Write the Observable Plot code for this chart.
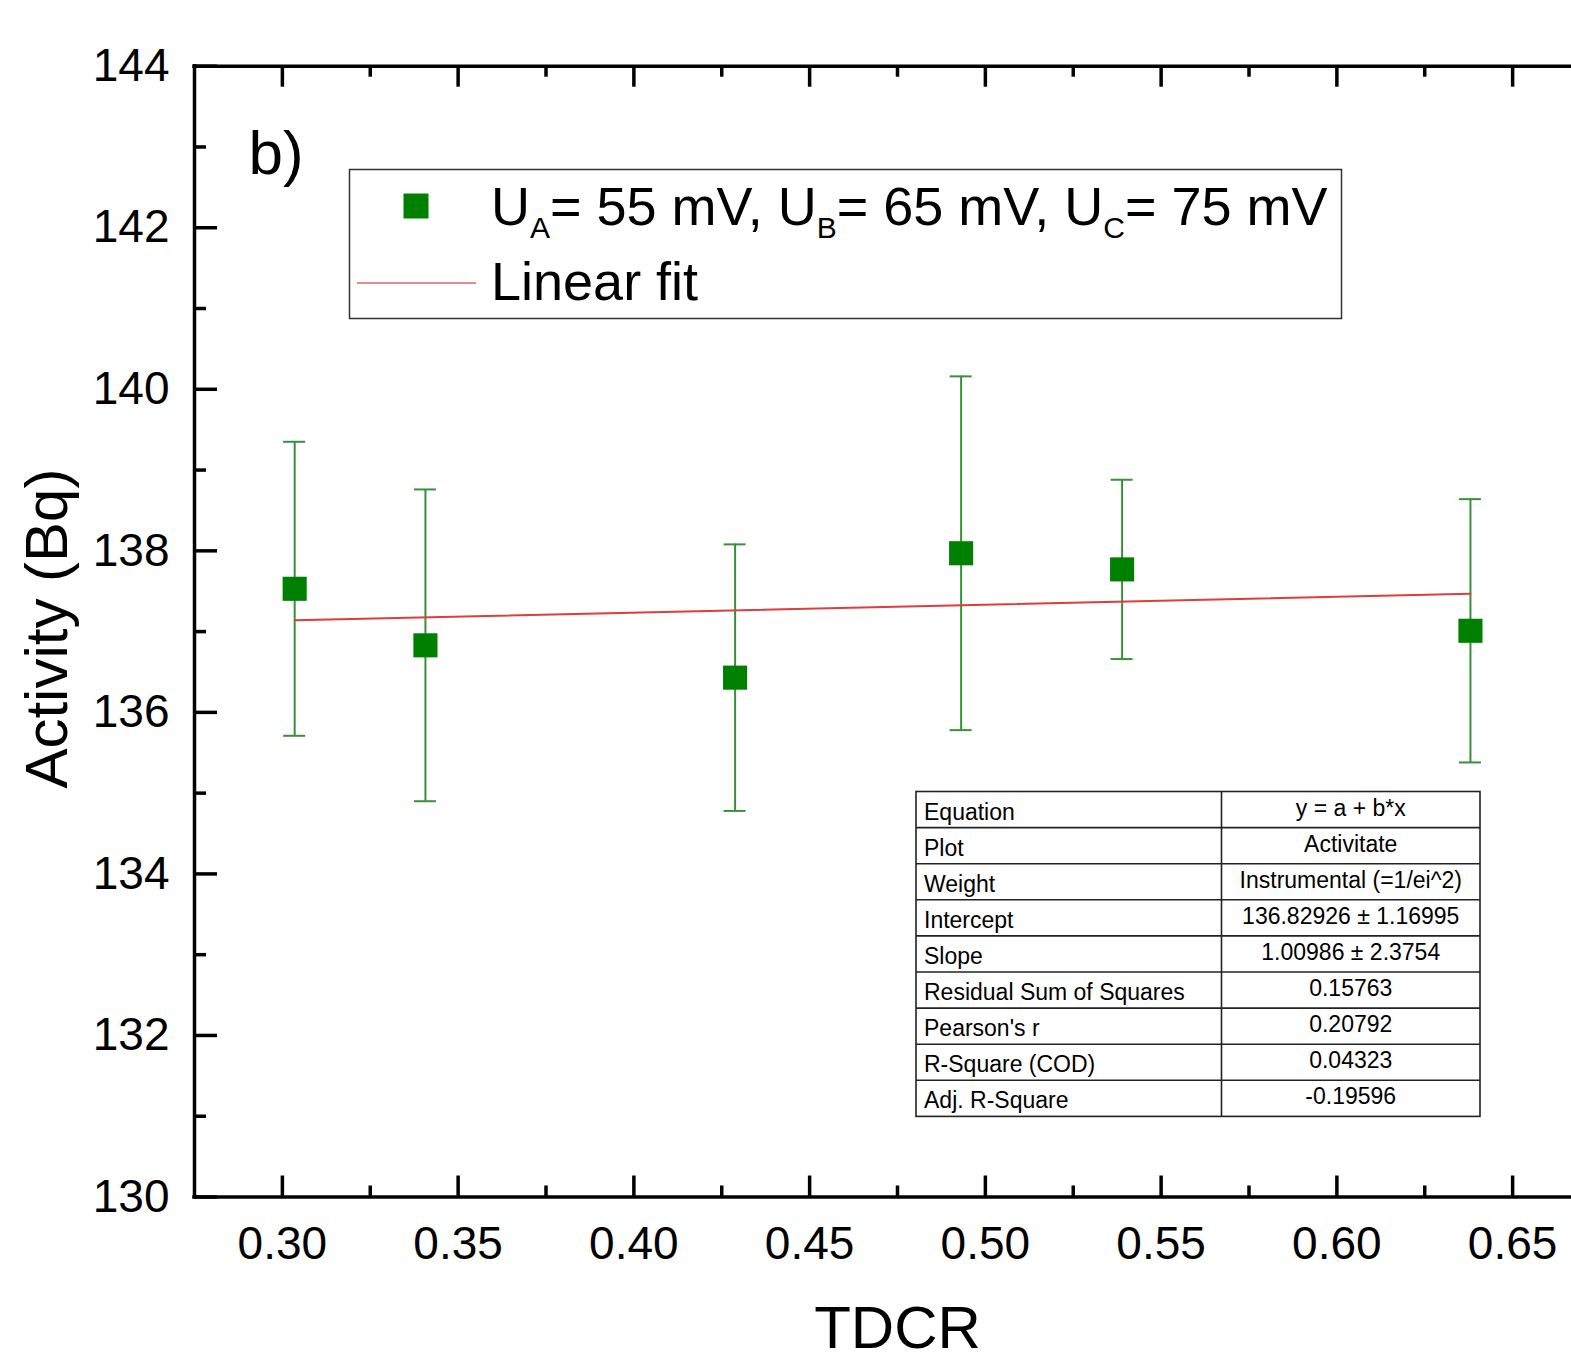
<!DOCTYPE html>
<html>
<head>
<meta charset="utf-8">
<script src="https://cdn.jsdelivr.net/npm/d3@7"></script>
<script src="https://cdn.jsdelivr.net/npm/@observablehq/plot@0.6"></script>
<style>
  html, body { margin: 0; padding: 0; background: #fff; overflow: hidden; }
  #wrap { position: relative; width: 1571px; height: 1367px; overflow: hidden;
          font-family: "Liberation Sans", Arial, sans-serif; }
  #wrap > svg { position: absolute; left: 0; top: 0; max-width: none !important; }
  #wrap > svg.chart { width: 1600px !important; height: 1367px !important; }
</style>
</head>
<body>
<div id="wrap"></div>
<script>
// ---- data ----
const tdcr     = [0.3035, 0.3407, 0.4288, 0.4931, 0.5389, 0.6380];
const activity = [137.53, 136.83, 136.43, 137.97, 137.77, 137.01];
const errors   = [1.82, 1.93, 1.65, 2.19, 1.11, 1.63];

const fitX = [0.3035, 0.6380];
const fitY = [137.14, 137.47];

const xDomain = [0.275, 0.675];
const yDomain = [130, 144];
const xMajor = [0.30, 0.35, 0.40, 0.45, 0.50, 0.55, 0.60, 0.65];
const xMinor = [0.325, 0.375, 0.425, 0.475, 0.525, 0.575, 0.625, 0.675];
const yMajor = [130, 132, 134, 136, 138, 140, 142, 144];
const yMinor = [131, 133, 135, 137, 139, 141, 143];

const xLabel = "TDCR";
const yLabel = "Activity (Bq)";
const panelTag = "b)";

const legendSeries = ["U", "A", "= 55 mV, U", "B", "= 65 mV, U", "C", "= 75 mV"];
const legendFit = "Linear fit";

const tableLabels = ["Equation", "Plot", "Weight", "Intercept", "Slope",
  "Residual Sum of Squares", "Pearson's r", "R-Square (COD)", "Adj. R-Square"];
const tableValues = ["y = a + b*x", "Activitate", "Instrumental (=1/ei^2)",
  "136.82926 \u00b1 1.16995", "1.00986 \u00b1 2.3754", "0.15763", "0.20792", "0.04323", "-0.19596"];

// ---- build ----
const pts = tdcr.map((x, i) => ({x, y: activity[i], lo: activity[i] - errors[i], hi: activity[i] + errors[i]}));
const fit = fitX.map((x, i) => ({x, y: fitY[i]}));

const green = "#008000";
const errColor = "#3a8f3a";
const red = "#e03c3c";
const fmtX = d3.format(".2f");

const chart = Plot.plot({
  width: 1600,
  height: 1367,
  marginLeft: 194,
  marginRight: 0,
  marginTop: 65.7,
  marginBottom: 170.5,
  x: {domain: xDomain, axis: null},
  y: {domain: yDomain, axis: null},
  style: {fontFamily: "'Liberation Sans', Arial, sans-serif", background: "transparent", overflow: "visible", color: "#000", maxWidth: "none"},
  marks: [
    // error bars
    Plot.ruleX(pts, {x: "x", y1: "lo", y2: "hi", stroke: errColor, strokeWidth: 2}),
    Plot.ruleY(pts, {y: "hi", x1: "x", x2: "x", insetLeft: -11, insetRight: -11, stroke: errColor, strokeWidth: 2}),
    Plot.ruleY(pts, {y: "lo", x1: "x", x2: "x", insetLeft: -11, insetRight: -11, stroke: errColor, strokeWidth: 2}),
    // linear fit
    Plot.line(fit, {x: "x", y: "y", stroke: red, strokeWidth: 2}),
    // markers
    Plot.dot(pts, {x: "x", y: "y", symbol: "square", r: 13.6, fill: green, stroke: "none"}),
    // frame lines
    Plot.ruleY([yDomain[0]], {stroke: "#000", strokeWidth: 3.5, strokeLinecap: "square"}),
    Plot.ruleY([yDomain[1]], {stroke: "#000", strokeWidth: 3.5, strokeLinecap: "square"}),
    Plot.ruleX([xDomain[0]], {stroke: "#000", strokeWidth: 3.5, strokeLinecap: "square"}),
    // bottom ticks (inward)
    Plot.ruleX(xMajor, {x: d => d, y1: yDomain[0], y2: yDomain[0], insetTop: -21, stroke: "#000", strokeWidth: 3.5}),
    Plot.ruleX(xMinor, {x: d => d, y1: yDomain[0], y2: yDomain[0], insetTop: -11, stroke: "#000", strokeWidth: 3.5}),
    // top ticks (inward)
    Plot.ruleX(xMajor, {x: d => d, y1: yDomain[1], y2: yDomain[1], insetBottom: -21, stroke: "#000", strokeWidth: 3.5}),
    Plot.ruleX(xMinor, {x: d => d, y1: yDomain[1], y2: yDomain[1], insetBottom: -11, stroke: "#000", strokeWidth: 3.5}),
    // left ticks (inward)
    Plot.ruleY(yMajor, {y: d => d, x1: xDomain[0], x2: xDomain[0], insetRight: -23, stroke: "#000", strokeWidth: 3.5}),
    Plot.ruleY(yMinor, {y: d => d, x1: xDomain[0], x2: xDomain[0], insetRight: -12, stroke: "#000", strokeWidth: 3.5}),
    // tick labels
    Plot.text(xMajor, {x: d => d, frameAnchor: "bottom", dy: 46.8, text: d => fmtX(d), fontSize: 46, fill: "#000", lineAnchor: "middle"}),
    Plot.text(yMajor, {y: d => d, frameAnchor: "left", dx: -25, text: d => String(d), fontSize: 46, fill: "#000", textAnchor: "end", lineAnchor: "middle"}),
    // axis labels
    Plot.text([xLabel], {frameAnchor: "bottom", dy: 131.5, fontSize: 60, fill: "#000", lineAnchor: "middle"}),
    Plot.text([yLabel], {frameAnchor: "left", dx: -147, dy: -3, rotate: -90, fontSize: 60, fill: "#000", textAnchor: "middle", lineAnchor: "middle"}),
    // panel tag
    Plot.text([panelTag], {frameAnchor: "top-left", dx: 54, dy: 107.3, fontSize: 62, fill: "#000", textAnchor: "start", lineAnchor: "bottom"})
  ]
});
chart.classList.add("chart");

const wrap = document.getElementById("wrap");
wrap.appendChild(chart);

// ---- overlay: legend and statistics table ----
const ov = d3.select(wrap).append("svg")
  .attr("width", 1571).attr("height", 1367)
  .style("font-family", "'Liberation Sans', Arial, sans-serif");

// legend
const lg = ov.append("g");
lg.append("rect").attr("x", 349.5).attr("y", 169.5).attr("width", 992).attr("height", 149)
  .attr("fill", "#fff").attr("stroke", "#333").attr("stroke-width", 1.5);
lg.append("rect").attr("x", 403.5).attr("y", 193.5).attr("width", 25).attr("height", 25).attr("fill", green);
const t1 = lg.append("text").attr("x", 491).attr("y", 225).attr("font-size", 54).attr("fill", "#000");
legendSeries.forEach((s, i) => {
  const isSub = i % 2 === 1;
  t1.append("tspan")
    .attr("font-size", isSub ? 30 : 54)
    .attr("dy", i === 0 ? 0 : (isSub ? 13 : -13))
    .text(s);
});
lg.append("line").attr("x1", 357).attr("x2", 476).attr("y1", 283).attr("y2", 283)
  .attr("stroke", red).attr("stroke-width", 1.6).attr("opacity", 0.8);
lg.append("text").attr("x", 491).attr("y", 300).attr("font-size", 54).attr("fill", "#000").text(legendFit);

// table
const tx0 = 916, tx1 = 1221.5, tx2 = 1480, ty0 = 791.5, rowH = 36.1;
const tb = ov.append("g");
tb.append("rect").attr("x", tx0).attr("y", ty0).attr("width", tx2 - tx0).attr("height", rowH * tableLabels.length)
  .attr("fill", "#fff").attr("stroke", "#222").attr("stroke-width", 1.6);
tb.append("line").attr("x1", tx1).attr("x2", tx1).attr("y1", ty0).attr("y2", ty0 + rowH * tableLabels.length)
  .attr("stroke", "#222").attr("stroke-width", 1.6);
tableLabels.forEach((lab, i) => {
  const top = ty0 + i * rowH;
  if (i > 0) tb.append("line").attr("x1", tx0).attr("x2", tx2).attr("y1", top).attr("y2", top)
    .attr("stroke", "#222").attr("stroke-width", 1.6);
  tb.append("text").attr("x", tx0 + 8).attr("y", top + 28).attr("font-size", 23).attr("fill", "#000").text(lab);
  tb.append("text").attr("x", (tx1 + tx2) / 2).attr("y", top + 24).attr("font-size", 23)
    .attr("text-anchor", "middle").attr("fill", "#000").text(tableValues[i]);
});
</script>
</body>
</html>
